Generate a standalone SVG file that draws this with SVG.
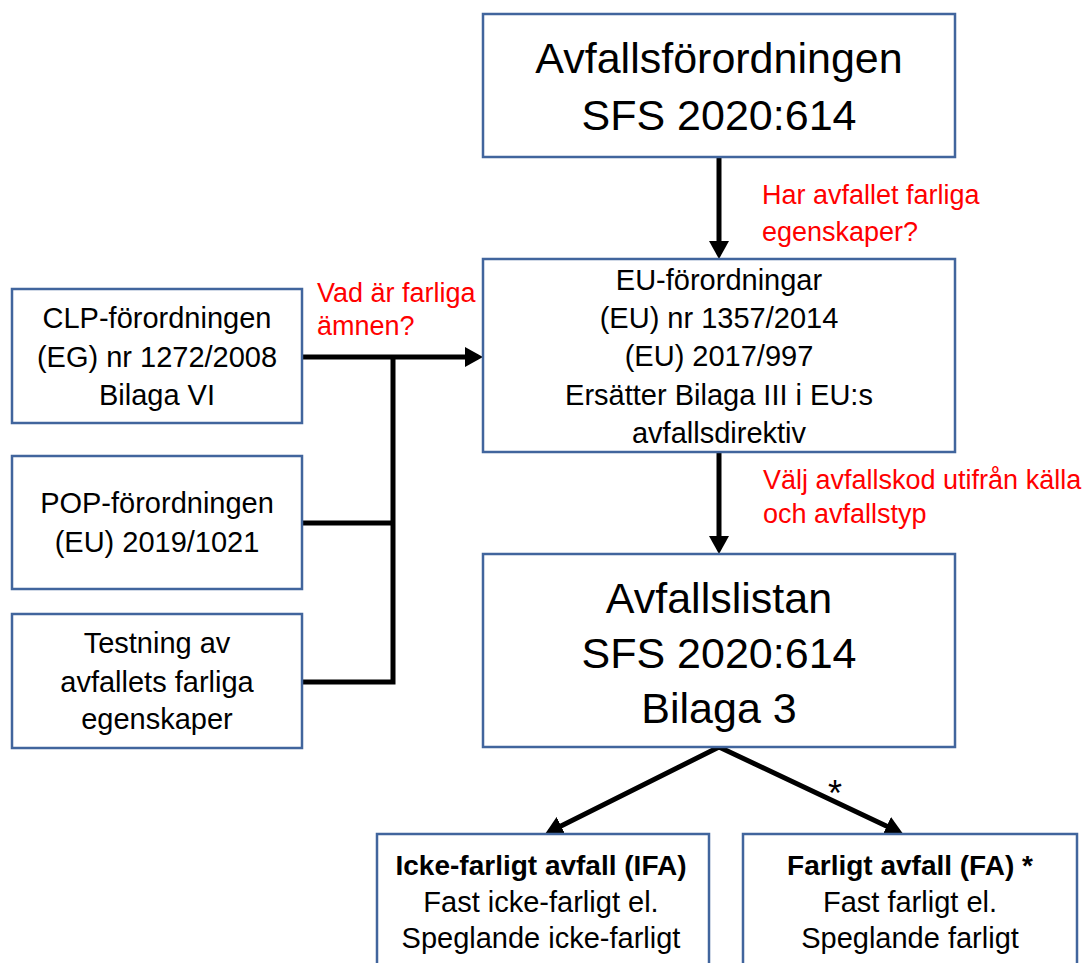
<svg xmlns="http://www.w3.org/2000/svg" width="1088" height="963" viewBox="0 0 1088 963">
<style>
.box{fill:#fff;stroke:#41659D;stroke-width:2.5}
.t{font-family:"Liberation Sans",Arial,sans-serif;fill:#000;text-anchor:middle}
.big{font-size:43px}
.med{font-size:29px}
.bm{font-size:28px;font-weight:bold}
.red{font-family:"Liberation Sans",Arial,sans-serif;fill:#FF0000;font-size:27px}
.ln{stroke:#000;stroke-width:5;fill:none}
</style>
<defs>
<marker id="ah" markerWidth="18" markerHeight="20" refX="13" refY="10" orient="auto" markerUnits="userSpaceOnUse">
<path d="M0,0 L18,10 L0,20 z" fill="#000"/>
</marker>
<marker id="ahs" markerWidth="18" markerHeight="20" refX="13" refY="10" orient="auto-start-reverse" markerUnits="userSpaceOnUse">
<path d="M0,0 L18,10 L0,20 z" fill="#000"/>
</marker>
</defs>
<rect width="1088" height="963" fill="#fff"/>
<g id="connectors">
<line class="ln" x1="719" y1="157" x2="719" y2="254" marker-end="url(#ah)"/>
<line class="ln" x1="719" y1="452" x2="719" y2="549" marker-end="url(#ah)"/>
<line class="ln" x1="302" y1="357" x2="478" y2="357" marker-end="url(#ah)"/>
<polyline class="ln" points="393,357 393,682 302,682"/>
<line class="ln" x1="302" y1="523" x2="393" y2="523"/>
<polyline class="ln" points="549.5,831.7 719,747 898.5,831.7" marker-start="url(#ahs)" marker-end="url(#ah)"/>
<text class="t" x="835" y="806" font-size="36">*</text>
</g>
<g id="avfallsforordningen">
<rect class="box" x="483" y="14" width="472" height="143"/>
<text class="t big" x="719" y="73">Avfallsförordningen</text>
<text class="t big" x="719" y="130">SFS 2020:614</text>
</g>
<text class="red" x="762" y="204">Har avfallet farliga</text>
<text class="red" x="762" y="241">egenskaper?</text>
<g id="eu">
<rect class="box" x="483" y="259" width="472" height="193"/>
<text class="t med" x="719" y="290">EU-förordningar</text>
<text class="t med" x="719" y="328">(EU) nr 1357/2014</text>
<text class="t med" x="719" y="366">(EU) 2017/997</text>
<text class="t med" x="719" y="405">Ersätter Bilaga III i EU:s</text>
<text class="t med" x="719" y="443">avfallsdirektiv</text>
</g>
<text class="red" x="317" y="302">Vad är farliga</text>
<text class="red" x="317" y="335">ämnen?</text>
<g id="clp">
<rect class="box" x="12" y="289" width="290" height="134"/>
<text class="t med" x="157" y="328">CLP-förordningen</text>
<text class="t med" x="157" y="367">(EG) nr 1272/2008</text>
<text class="t med" x="157" y="405">Bilaga VI</text>
</g>
<g id="pop">
<rect class="box" x="12" y="456" width="290" height="133"/>
<text class="t med" x="157" y="513">POP-förordningen</text>
<text class="t med" x="157" y="552">(EU) 2019/1021</text>
</g>
<g id="testning">
<rect class="box" x="12" y="614" width="290" height="134"/>
<text class="t med" x="157" y="653">Testning av</text>
<text class="t med" x="157" y="692">avfallets farliga</text>
<text class="t med" x="157" y="729">egenskaper</text>
</g>
<text class="red" x="763" y="489">Välj avfallskod utifrån källa</text>
<text class="red" x="763" y="523">och avfallstyp</text>
<g id="avfallslistan">
<rect class="box" x="483" y="554" width="472" height="193"/>
<text class="t big" x="719" y="613">Avfallslistan</text>
<text class="t big" x="719" y="668">SFS 2020:614</text>
<text class="t big" x="719" y="723">Bilaga 3</text>
</g>
<g id="ifa">
<rect class="box" x="377" y="834" width="332" height="140"/>
<text class="t bm" x="541" y="875">Icke-farligt avfall (IFA)</text>
<text class="t med" x="541" y="912">Fast icke-farligt el.</text>
<text class="t med" x="541" y="948">Speglande icke-farligt</text>
</g>
<g id="fa">
<rect class="box" x="743" y="834" width="334" height="140"/>
<text class="t bm" x="910" y="875">Farligt avfall (FA) *</text>
<text class="t med" x="910" y="912">Fast farligt el.</text>
<text class="t med" x="910" y="948">Speglande farligt</text>
</g>
</svg>
